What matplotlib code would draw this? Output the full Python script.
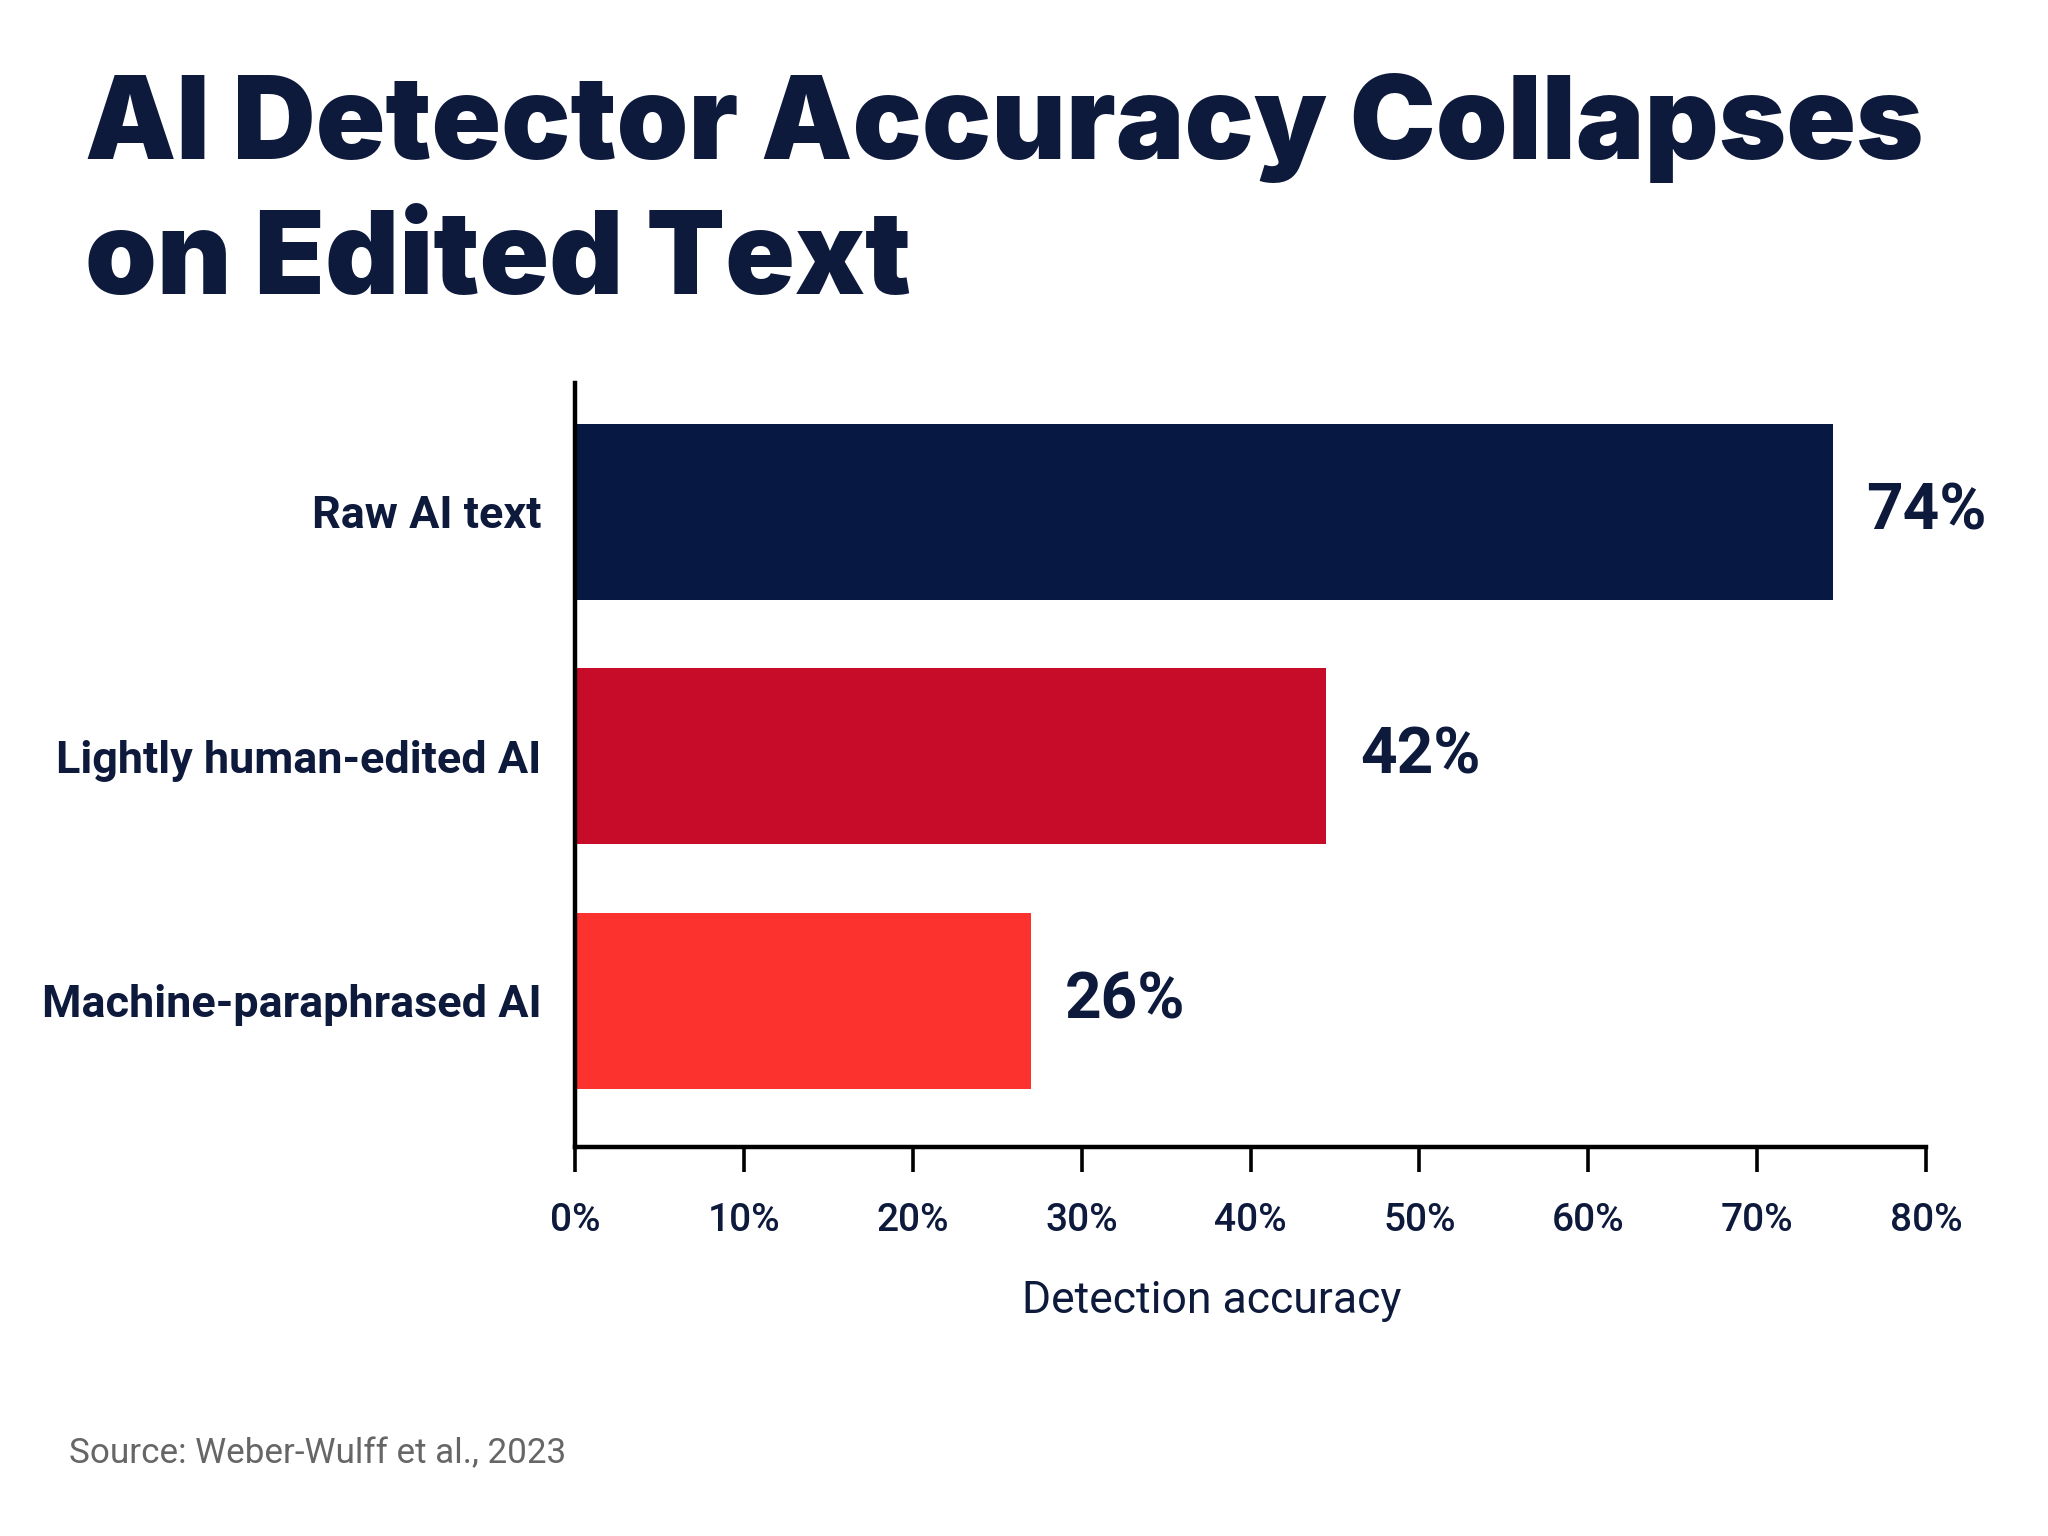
import matplotlib
matplotlib.use("Agg")
import matplotlib.pyplot as plt
from matplotlib.ticker import FuncFormatter

# data
categories = ["Raw AI text", "Lightly human-edited AI", "Machine-paraphrased AI"]
bar_values = [74.5, 44.5, 27.0]
value_labels = ["74%", "42%", "26%"]
bar_colors = ["#071842", "#C60C28", "#FC322E"]
x_ticks = [0, 10, 20, 30, 40, 50, 60, 70, 80]

NAVY = "#0E1A3C"

plt.rcParams['font.family'] = ['Roboto', 'DejaVu Sans']

fig = plt.figure(figsize=(10.24, 7.68), dpi=200)
ax = fig.add_axes([0.2808, 0.2533, 0.6596, 0.4974])

ypos = list(range(len(categories)))
ax.barh(ypos, bar_values, height=0.72, color=bar_colors)

for y, v, lab in zip(ypos, bar_values, value_labels):
    ax.annotate(lab, (v, y), xytext=(12, 0), textcoords='offset points',
                ha='left', va='center', fontsize=23, fontweight='bold', color=NAVY)

ax.set_xlim(0, 80)
ax.set_ylim(2.598, -0.527)
ax.set_yticks(ypos)
ax.set_yticklabels(categories, fontsize=16.2, fontweight='bold', color=NAVY)
ax.tick_params(axis='y', length=0, pad=12)
ax.set_xticks(x_ticks)
ax.xaxis.set_major_formatter(FuncFormatter(lambda v, p: f"{int(v)}%"))
ax.tick_params(axis='x', length=9, width=1.3, color='black', pad=11,
               labelsize=14, labelcolor=NAVY)
for lbl in ax.get_xticklabels():
    lbl.set_fontweight('medium')

for s in ['top', 'right']:
    ax.spines[s].set_visible(False)
for s in ['left', 'bottom']:
    ax.spines[s].set_linewidth(1.6)
    ax.spines[s].set_color('black')

fig.text(0.5918, 1 - 1313 / 1536, "Detection accuracy", ha='center', va='baseline',
         fontsize=16, color=NAVY)

fig.text(0.0415, 0.8965, "AI Detector Accuracy Collapses", ha='left', va='baseline',
         fontsize=41.4, fontweight='black', color=NAVY, family=['Inter', 'DejaVu Sans'])
fig.text(0.0415, 0.8086, "on Edited Text", ha='left', va='baseline',
         fontsize=41.4, fontweight='black', color=NAVY, family=['Inter', 'DejaVu Sans'])

fig.text(0.0337, 1 - 1463 / 1536, "Source: Weber-Wulff et al., 2023", ha='left',
         va='baseline', fontsize=12.6, color='#666666')

fig.savefig("out.png", dpi=200, facecolor='white')
